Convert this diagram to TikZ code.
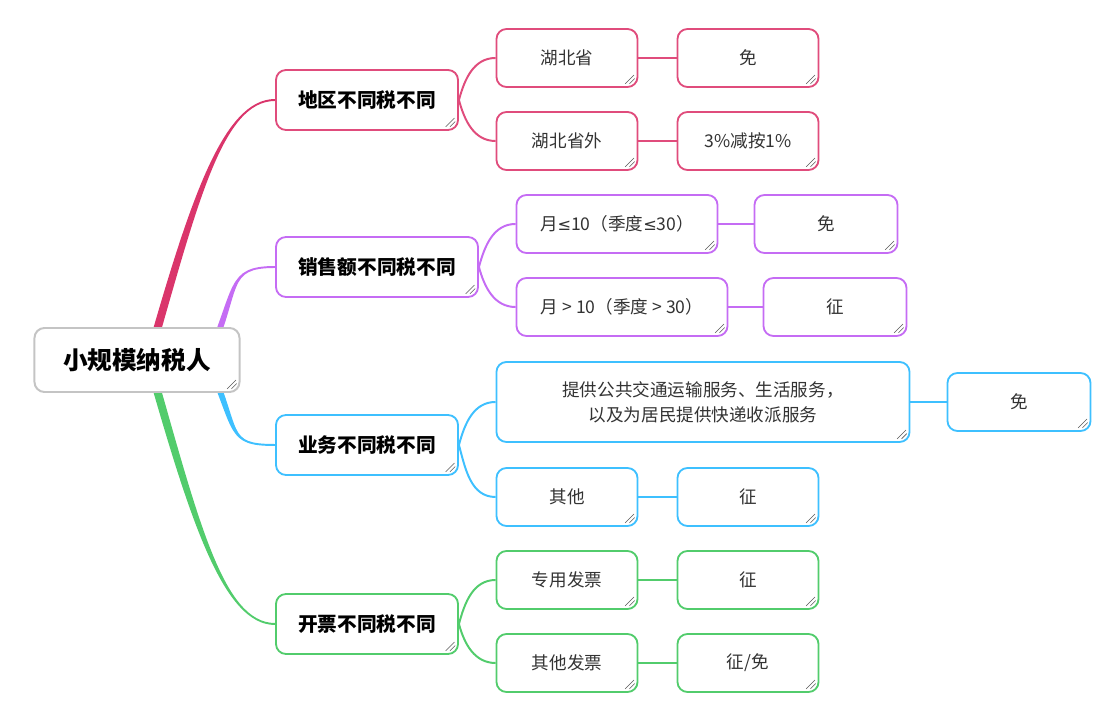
\documentclass[tikz,border=0pt]{standalone}
\usepackage{fontspec}
\setmainfont{Noto Sans CJK SC}
\newfontfamily\symf{DejaVu Sans}
\newcommand{\lesym}{{\symf\fontsize{11.5}{18}\selectfont ≤}}
\definecolor{redc}{HTML}{E04C7C}
\definecolor{redb}{HTML}{DA356B}
\definecolor{purc}{HTML}{C56CF4}
\definecolor{bluc}{HTML}{3EC0FF}
\definecolor{grnc}{HTML}{52CC6C}
\definecolor{rootc}{HTML}{C4C4C4}
\definecolor{txtc}{HTML}{333333}
% tapered branch: colour, start, end, out angle, side (1 or -1), out distance, in distance, half width
\newcommand{\taper}[8]{\fill[#1] ([xshift=-#8]#2) to[out=#4,in=180,out distance=#6,in distance=#7]
 ([yshift={(#5)*0.7pt}]#3) -- ([yshift={-(#5)*0.7pt}]#3)
 to[out=180,in=#4,out distance=#7,in distance=#6] ([xshift=#8]#2) -- cycle;}
\tikzset{
 hatch/.style={path picture={\draw[gray!70!black,line width=0.4pt]
  ([shift={(-0.31cm,0.08cm)}]path picture bounding box.south east) -- ++(0.22cm,0.22cm)
  ([shift={(-0.2cm,0.08cm)}]path picture bounding box.south east) -- ++(0.13cm,0.13cm);}},
 box/.style={draw, fill=white, rounded corners=0.25cm, line width=1.3pt, hatch, align=center,
  inner sep=0pt, minimum height=1.45cm, minimum width=3.525cm,
  font=\fontsize{12.5}{18}\selectfont, text=txtc},
 topic/.style={box, minimum height=1.5cm, minimum width=4.55cm,
  font=\fontsize{14}{17}\selectfont\bfseries, text=black},
 central/.style={box, draw=rootc, line width=1.4pt, minimum width=5.125cm, minimum height=1.6cm,
  font=\fontsize{17.5}{21}\selectfont\bfseries, text=black},
 link/.style={line width=1.4pt}
}
\begin{document}
\begin{tikzpicture}[x=0.025cm,y=0.025cm]
\useasboundingbox (0,0) rectangle (1119,723);
% topics
\node[topic,draw=redc] (diqu) at (367,623) {地区不同税不同};
\node[topic,draw=purc,minimum width=5.05cm] (xiaoshou) at (377,456) {销售额不同税不同};
\node[topic,draw=bluc] (yewu) at (367,278) {业务不同税不同};
\node[topic,draw=grnc] (kaipiao) at (367,99) {开票不同税不同};

% branches from the centre
\coordinate (s1) at (151,372);
\coordinate (s2) at (207,362);
\coordinate (s3) at (207,364);
\coordinate (s4) at (151,354);
\taper{redb}{s1}{diqu.west}{74}{1}{3.9cm}{1.3cm}{3pt}
\taper{purc}{s2}{xiaoshou.west}{66}{1}{2cm}{1.25cm}{2.4pt}
\taper{bluc}{s3}{yewu.west}{-66}{-1}{2cm}{1.25cm}{2.4pt}
\taper{grnc}{s4}{kaipiao.west}{-74}{-1}{3.9cm}{1.3cm}{3pt}
\node[central] (root) at (137,363) {小规模纳税人};

% red
\node[box,draw=redc] (hb) at (567,665) {湖北省};
\node[box,draw=redc] (hbw) at (567,582) {湖北省外};
\node[box,draw=redc] (hbmian) at (748,665) {免};
\node[box,draw=redc] (hbwjian) at (748,582) {3\%减按1\%};
\draw[link,redc] (diqu.east) to[out=75,in=180] (hb.west);
\draw[link,redc] (diqu.east) to[out=-75,in=180] (hbw.west);
\draw[link,redc] (hb) -- (hbmian);
\draw[link,redc] (hbw) -- (hbwjian);

% purple
\node[box,draw=purc,minimum width=5.025cm] (yuele) at (617,499) {月\lesym10（季度\lesym30）};
\node[box,draw=purc,minimum width=5.275cm] (yuegt) at (622,416) {月 > 10（季度 > 30）};
\node[box,draw=purc,minimum width=3.575cm] (lemian) at (826,499) {免};
\node[box,draw=purc,minimum width=3.575cm] (gtzheng) at (835,416) {征};
\draw[link,purc] (xiaoshou.east) to[out=75,in=180] (yuele.west);
\draw[link,purc] (xiaoshou.east) to[out=-75,in=180] (yuegt.west);
\draw[link,purc] (yuele) -- (lemian);
\draw[link,purc] (yuegt) -- (gtzheng);

% blue
\node[box,draw=bluc,minimum width=10.325cm,minimum height=2cm] (fuwu) at (703,321)
 {提供公共交通运输服务、生活服务，\\以及为居民提供快递收派服务};
\node[box,draw=bluc,minimum width=3.575cm] (fuwumian) at (1019,321) {免};
\node[box,draw=bluc] (qita) at (567,226) {其他};
\node[box,draw=bluc] (qitazheng) at (748,226) {征};
\draw[link,bluc] (yewu.east) to[out=75,in=180] (fuwu.west);
\draw[link,bluc] (yewu.east) to[out=-75,in=180] (qita.west);
\draw[link,bluc] (fuwu) -- (fuwumian);
\draw[link,bluc] (qita) -- (qitazheng);

% green
\node[box,draw=grnc] (zhuanyong) at (567,143) {专用发票};
\node[box,draw=grnc] (zyzheng) at (748,143) {征};
\node[box,draw=grnc] (qtfp) at (567,60) {其他发票};
\node[box,draw=grnc] (qtfpzm) at (748,60) {征/免};
\draw[link,grnc] (kaipiao.east) to[out=75,in=180] (zhuanyong.west);
\draw[link,grnc] (kaipiao.east) to[out=-75,in=180] (qtfp.west);
\draw[link,grnc] (zhuanyong) -- (zyzheng);
\draw[link,grnc] (qtfp) -- (qtfpzm);
\end{tikzpicture}
\end{document}
